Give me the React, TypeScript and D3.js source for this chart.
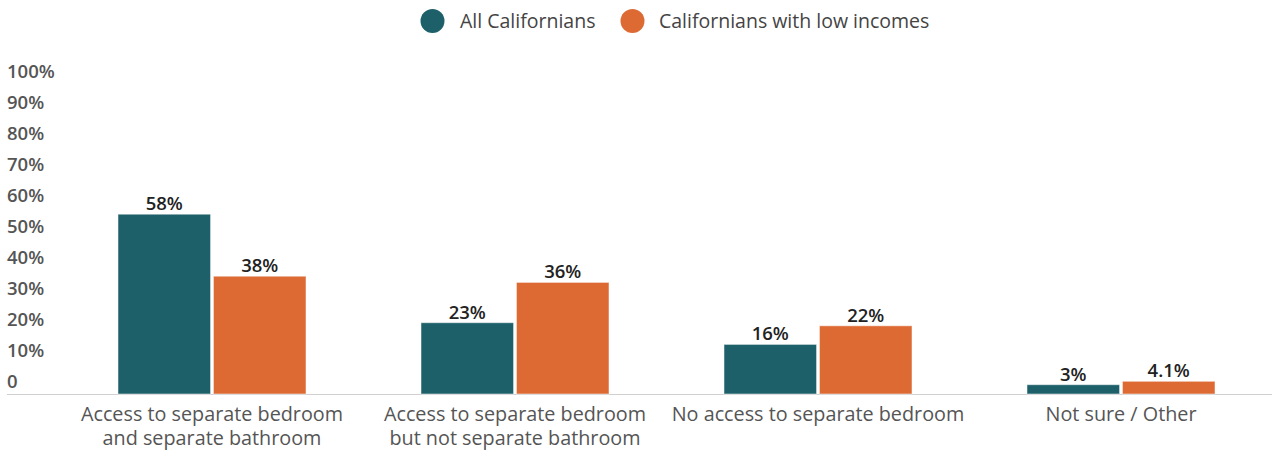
import React from "react";
import * as d3 from "d3";

const categories: string[][] = [
  ["Access to separate bedroom", "and separate bathroom"],
  ["Access to separate bedroom", "but not separate bathroom"],
  ["No access to separate bedroom"],
  ["Not sure / Other"],
];
const seriesNames = ["All Californians", "Californians with low incomes"];
const allCalifornians = [58, 23, 16, 3];
const lowIncome = [38, 36, 22, 4.1];
const valueLabels = [
  ["58%", "23%", "16%", "3%"],
  ["38%", "36%", "22%", "4.1%"],
];
const yTicks = [0, 10, 20, 30, 40, 50, 60, 70, 80, 90, 100];
const colors = ["#1d6069", "#dd6a33"];

const W = 1272;
const H = 452;
const FONT = "'Open Sans', 'Noto Sans', sans-serif";

export default function App() {
  const series = [allCalifornians, lowIncome];
  const x0 = d3
    .scaleBand<number>()
    .domain(categories.map((_, i) => i))
    .range([60.5, 1272.5])
    .paddingInner(0)
    .paddingOuter(0);
  const groupW = 188;
  const x1 = d3.scaleBand<number>().domain([0, 1]).range([0, groupW]).paddingInner(0.03);
  const y = d3.scaleLinear().domain([0, 100]).range([394, 84]);

  return (
    <svg
      width={W}
      height={H}
      style={{ position: "absolute", left: 0, top: 0, background: "#fff" }}
      fontFamily={FONT}
    >
      {/* legend */}
      {[{ cx: 432.5, tx: 460 }, { cx: 632.5, tx: 659 }].map((l, i) => (
        <g key={i}>
          <circle cx={l.cx} cy={21} r={12} fill={colors[i]} />
          <text x={l.tx} y={21} dy="0.35em" fontSize={19.5} fill="#444" fontWeight={500}>
            {seriesNames[i]}
          </text>
        </g>
      ))}

      {/* y tick labels */}
      {yTicks.map((t) => (
        <text key={t} x={7} y={y(t) - 12} dy="0.35em" fontSize={18.5} fill="#555" fontWeight={600}>
          {t === 0 ? "0" : `${t}%`}
        </text>
      ))}

      {/* baseline */}
      <line x1={7} x2={1272} y1={y(0) + 0.5} y2={y(0) + 0.5} stroke="#d0d0d0" strokeWidth={1} />

      {/* bars */}
      {categories.map((cat, ci) => {
        const gx = (x0(ci) as number) + x0.bandwidth() / 2 - groupW / 2;
        return (
          <g key={ci}>
            {series.map((s, si) => {
              const bx = gx + (x1(si) as number);
              const bw = x1.bandwidth();
              return (
                <g key={si}>
                  <rect
                    x={bx}
                    y={y(s[ci])}
                    width={bw}
                    height={y(0) - y(s[ci])}
                    fill={colors[si]}
                    stroke="rgba(255,255,255,0.5)"
                    strokeWidth={1}
                  />
                  <text
                    x={bx + bw / 2}
                    y={y(s[ci]) - 10.5}
                    dy="0.35em"
                    textAnchor="middle"
                    fontSize={18.5}
                    fill="#222"
                    fontWeight={600}
                  >
                    {valueLabels[si][ci]}
                  </text>
                </g>
              );
            })}
            {cat.map((line, li) => (
              <text
                key={li}
                x={(x0(ci) as number) + x0.bandwidth() / 2}
                y={414 + li * 24}
                dy="0.35em"
                textAnchor="middle"
                fontSize={19.8}
                fill="#555"
              >
                {line}
              </text>
            ))}
          </g>
        );
      })}
    </svg>
  );
}
